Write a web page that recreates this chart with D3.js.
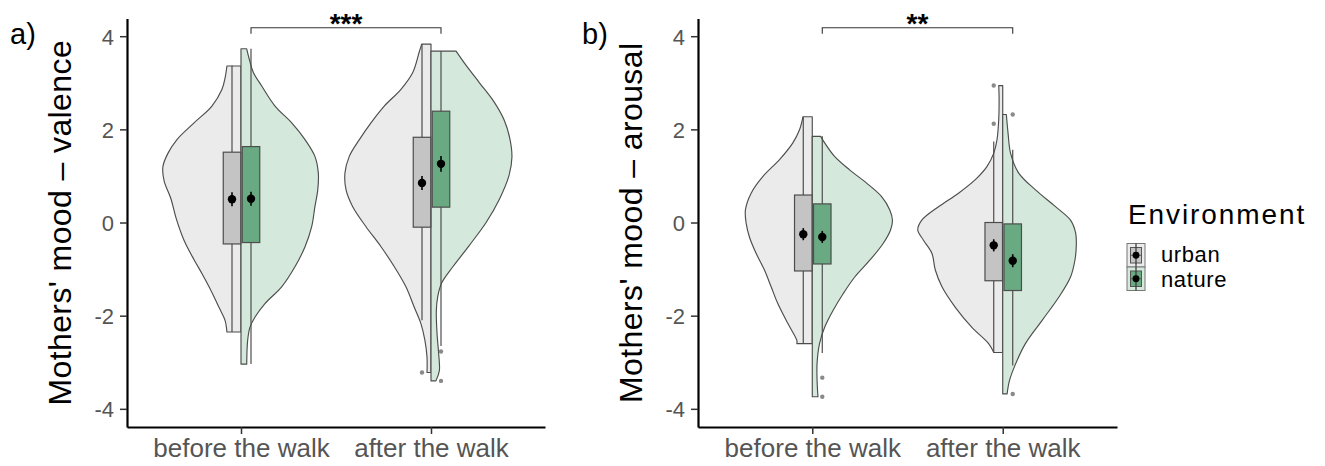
<!DOCTYPE html>
<html>
<head>
<meta charset="utf-8">
<script src="https://cdn.jsdelivr.net/npm/d3@7"></script>
<style>
  body { margin: 0; background: #fff; }
  svg { display: block; }
  text { font-family: "Liberation Sans", Arial, Helvetica, sans-serif; }
</style>
</head>
<body>
<svg id="chart" width="1325" height="466"></svg>
<script>
// ---- data -------------------------------------------------------------
const timepoints = ["before the walk", "after the walk"];
const environments = ["urban", "nature"];
const yTicks = [-4, -2, 0, 2, 4];

// Half-violin outlines: [mood score, half-width as a share of the category step]
const valenceUrbanBefore = [[3.36,0.074],[3.10,0.084],[2.86,0.100],[2.50,0.153],[2.14,0.247],[1.78,0.337],[1.49,0.384],[1.20,0.411],[0.90,0.405],[0.50,0.368],[0.10,0.342],[-0.38,0.300],[-0.80,0.247],[-1.10,0.205],[-1.50,0.153],[-1.82,0.116],[-2.10,0.084],[-2.35,0.074]];
const valenceNatureBefore = [[3.73,0.030],[3.50,0.044],[3.22,0.065],[2.93,0.109],[2.50,0.179],[2.14,0.267],[1.78,0.337],[1.42,0.389],[1.06,0.407],[0.70,0.404],[0.34,0.389],[-0.09,0.372],[-0.52,0.337],[-0.95,0.284],[-1.38,0.214],[-1.74,0.126],[-2.03,0.074],[-2.25,0.047],[-2.53,0.035],[-3.04,0.030]];
const valenceUrbanAfter = [[3.83,0.049],[3.66,0.062],[3.22,0.096],[2.86,0.158],[2.50,0.246],[2.14,0.316],[1.78,0.377],[1.42,0.430],[1.06,0.453],[0.70,0.447],[0.34,0.412],[-0.09,0.342],[-0.52,0.263],[-0.95,0.193],[-1.38,0.132],[-1.82,0.088],[-2.17,0.053],[-2.53,0.032],[-2.89,0.021],[-3.22,0.021]];
const valenceNatureAfter = [[3.68,0.132],[3.40,0.180],[3.00,0.255],[2.60,0.330],[2.20,0.385],[1.80,0.415],[1.40,0.426],[1.00,0.410],[0.50,0.360],[0.00,0.290],[-0.50,0.200],[-0.95,0.115],[-1.30,0.056],[-1.60,0.035],[-1.90,0.028],[-2.40,0.032],[-2.80,0.040],[-3.18,0.044],[-3.40,0.026]];

const arousalUrbanBefore = [[2.27,0.049],[1.99,0.067],[1.71,0.102],[1.35,0.172],[0.99,0.259],[0.63,0.321],[0.27,0.351],[-0.02,0.347],[-0.31,0.330],[-0.66,0.295],[-1.02,0.251],[-1.38,0.216],[-1.74,0.181],[-2.17,0.128],[-2.53,0.081],[-2.60,0.081]];
const arousalNatureBefore = [[1.85,0.044],[1.71,0.065],[1.42,0.117],[1.13,0.196],[0.85,0.284],[0.56,0.363],[0.27,0.407],[0.05,0.421],[-0.16,0.411],[-0.45,0.372],[-0.81,0.302],[-1.17,0.223],[-1.53,0.162],[-1.89,0.109],[-2.25,0.065],[-2.60,0.038],[-3.04,0.025],[-3.47,0.026],[-3.74,0.030]];
const arousalUrbanAfter = [[2.94,0.021],[2.64,0.019],[2.21,0.021],[1.78,0.030],[1.49,0.047],[1.20,0.083],[0.92,0.144],[0.63,0.232],[0.34,0.337],[0.05,0.425],[-0.16,0.446],[-0.38,0.416],[-0.66,0.372],[-1.02,0.354],[-1.38,0.319],[-1.82,0.249],[-2.25,0.162],[-2.60,0.074],[-2.79,0.047]];
const arousalNatureAfter = [[2.32,0.019],[1.92,0.028],[1.49,0.041],[1.06,0.084],[0.70,0.172],[0.34,0.277],[0.05,0.356],[-0.23,0.383],[-0.52,0.386],[-0.81,0.379],[-1.17,0.356],[-1.60,0.295],[-2.10,0.207],[-2.60,0.119],[-3.04,0.067],[-3.40,0.035],[-3.68,0.023]];

// Box statistics per timepoint: [lower whisker, Q1, Q3, upper whisker]
const valenceUrbanBox  = [[-2.35, -0.46, 1.51, 3.37], [-2.10, -0.10, 1.83, 3.83]];
const valenceNatureBox = [[-3.04, -0.43, 1.63, 3.73], [-2.65, 0.33, 2.39, 3.68]];
const arousalUrbanBox  = [[-2.60, -1.04, 0.59, 2.27], [-2.79, -1.25, 0.00, 1.74]];
const arousalNatureBox = [[-2.80, -0.89, 0.40, 1.85], [-3.07, -1.46, -0.03, 1.56]];

// Means and standard errors per timepoint
const valenceUrbanMean  = [0.50, 0.85];  const valenceUrbanSE  = [0.15, 0.15];
const valenceNatureMean = [0.51, 1.26];  const valenceNatureSE = [0.15, 0.17];
const arousalUrbanMean  = [-0.25, -0.49]; const arousalUrbanSE  = [0.13, 0.13];
const arousalNatureMean = [-0.31, -0.82]; const arousalNatureSE = [0.13, 0.14];

// Outlying observations per timepoint
const valenceUrbanOutliers  = [[], [-3.22]];
const valenceNatureOutliers = [[], [-2.77, -3.40]];
const arousalUrbanOutliers  = [[], [2.12, 2.94]];
const arousalNatureOutliers = [[-3.33, -3.74], [2.32, -3.68]];

// Before/after comparison
const valenceSignificance = "***";
const arousalSignificance = "**";
const significanceLevel = 4.18;

// ---- styles -----------------------------------------------------------
const violinFill = { urban: "#ebebeb", nature: "#d5e8dc" };
const boxFill    = { urban: "#c4c4c4", nature: "#69aa83" };
const outline = "#4d4d4d";

const panels = [
  {
    tag: "a)", title: "Mothers' mood \u2013 valence", left: 127, right: 545,
    tagX: 10, titleX: 71, sig: valenceSignificance,
    groups: {
      urban:  { dens: [valenceUrbanBefore, valenceUrbanAfter], box: valenceUrbanBox, mean: valenceUrbanMean, se: valenceUrbanSE, out: valenceUrbanOutliers },
      nature: { dens: [valenceNatureBefore, valenceNatureAfter], box: valenceNatureBox, mean: valenceNatureMean, se: valenceNatureSE, out: valenceNatureOutliers }
    }
  },
  {
    tag: "b)", title: "Mothers' mood \u2013 arousal", left: 698, right: 1117,
    tagX: 582, titleX: 642, sig: arousalSignificance,
    groups: {
      urban:  { dens: [arousalUrbanBefore, arousalUrbanAfter], box: arousalUrbanBox, mean: arousalUrbanMean, se: arousalUrbanSE, out: arousalUrbanOutliers },
      nature: { dens: [arousalNatureBefore, arousalNatureAfter], box: arousalNatureBox, mean: arousalNatureMean, se: arousalNatureSE, out: arousalNatureOutliers }
    }
  }
];

const svg = d3.select("#chart");
const plotTop = 18.5, plotBottom = 427;
const y = d3.scaleLinear().domain([-4.39, 4.38]).range([plotBottom, plotTop]);

const boxWidth = 17.5;
const dodge = { urban: -9, nature: 10 };

panels.forEach(p => {
  const g = svg.append("g");
  const x = d3.scalePoint().domain(timepoints).range([p.left, p.right]).padding(0.6);
  const step = x.step();

  // half violins: urban to the left of the category, nature to the right
  environments.forEach(env => {
    const grp = p.groups[env];
    const side = env === "urban" ? -1 : 1;
    timepoints.forEach((t, i) => {
      const cx = x(t);
      const area = d3.area()
        .y(d => y(d[0]))
        .x0(() => cx)
        .x1(d => cx + side * d[1] * step)
        .curve(d3.curveCatmullRom.alpha(0.5));
      g.append("path")
        .attr("d", area(grp.dens[i]))
        .attr("fill", violinFill[env])
        .attr("stroke", outline)
        .attr("stroke-width", 1.15)
        .attr("stroke-linejoin", "round");
    });
  });

  // box plots, outliers, means with standard errors
  environments.forEach(env => {
    const grp = p.groups[env];
    timepoints.forEach((t, i) => {
      const cx = x(t) + dodge[env];
      const [lo, q1, q3, hi] = grp.box[i];
      g.append("line")
        .attr("x1", cx).attr("x2", cx)
        .attr("y1", y(hi)).attr("y2", y(lo))
        .attr("stroke", outline).attr("stroke-width", 1.2);
      g.append("rect")
        .attr("x", cx - boxWidth / 2).attr("width", boxWidth)
        .attr("y", y(q3)).attr("height", y(q1) - y(q3))
        .attr("fill", boxFill[env])
        .attr("stroke", outline).attr("stroke-width", 1.2);
      grp.out[i].forEach(v => {
        g.append("circle")
          .attr("cx", cx).attr("cy", y(v)).attr("r", 2.2)
          .attr("fill", "#8a8a8a");
      });
      const m = grp.mean[i], se = grp.se[i];
      g.append("line")
        .attr("x1", cx).attr("x2", cx)
        .attr("y1", y(m + se)).attr("y2", y(m - se))
        .attr("stroke", "#000").attr("stroke-width", 1.6);
      g.append("circle")
        .attr("cx", cx).attr("cy", y(m)).attr("r", 4.2)
        .attr("fill", "#000");
    });
  });

  // significance bracket between the nature groups
  const x1 = x(timepoints[0]) + dodge.nature, x2 = x(timepoints[1]) + dodge.nature;
  const yb = y(significanceLevel);
  g.append("path")
    .attr("d", `M${x1},${yb + 6}V${yb}H${x2}V${yb + 6}`)
    .attr("fill", "none").attr("stroke", "#333").attr("stroke-width", 1.1);
  g.append("text")
    .attr("x", (x1 + x2) / 2).attr("y", yb + 5)
    .attr("text-anchor", "middle")
    .attr("font-size", 28).attr("font-weight", "bold")
    .text(p.sig);

  // axes
  const yAxis = g.append("g")
    .attr("transform", `translate(${p.left},0)`)
    .call(d3.axisLeft(y).tickValues(yTicks).tickSize(7).tickSizeOuter(0).tickPadding(6)
      .tickFormat(d => String(d)));
  const xAxis = g.append("g")
    .attr("transform", `translate(0,${plotBottom})`)
    .call(d3.axisBottom(x).tickSize(7).tickSizeOuter(0).tickPadding(5));
  [yAxis, xAxis].forEach(a => {
    a.select(".domain").attr("stroke", "#000").attr("stroke-width", 2.2);
    a.selectAll(".tick line").attr("stroke", "#333").attr("stroke-width", 1.5);
    a.selectAll(".tick text").attr("fill", "#555").attr("font-family", "Liberation Sans, Arial, sans-serif");
  });
  yAxis.selectAll(".tick text").attr("font-size", 22).attr("dy", "0.36em");
  xAxis.selectAll(".tick text").attr("font-size", 26);

  // axis title and panel tag
  g.append("text")
    .attr("transform", `translate(${p.titleX},${(plotTop + plotBottom) / 2}) rotate(-90)`)
    .attr("text-anchor", "middle")
    .attr("font-size", 32)
    .attr("letter-spacing", 0.4)
    .attr("fill", "#000")
    .text(p.title);
  g.append("text")
    .attr("x", p.tagX).attr("y", 44)
    .attr("font-size", 29)
    .attr("fill", "#000")
    .text(p.tag);
});

// legend
const legend = svg.append("g").attr("transform", "translate(1127,0)");
legend.append("text")
  .attr("x", 1).attr("y", 224)
  .attr("font-size", 28).attr("letter-spacing", 1.9)
  .attr("fill", "#000")
  .text("Environment");
environments.forEach((env, i) => {
  const ky = 243.5 + i * 23.5;
  const k = legend.append("g").attr("transform", `translate(0,${ky})`);
  k.append("rect").attr("x", 0).attr("y", 0).attr("width", 18).attr("height", 23.5)
    .attr("fill", violinFill[env]).attr("stroke", "#777").attr("stroke-width", 1);
  k.append("rect").attr("x", 3.5).attr("y", 4).attr("width", 11).attr("height", 15.5)
    .attr("fill", boxFill[env]).attr("stroke", "#555").attr("stroke-width", 1);
  k.append("line").attr("x1", 9).attr("x2", 9).attr("y1", 0).attr("y2", 23.5)
    .attr("stroke", "#333").attr("stroke-width", 1.2);
  k.append("line").attr("x1", 3.5).attr("x2", 14.5).attr("y1", 11.75).attr("y2", 11.75)
    .attr("stroke", "#555").attr("stroke-width", 1);
  k.append("circle").attr("cx", 9).attr("cy", 11.75).attr("r", 3.4).attr("fill", "#000");
  legend.append("text")
    .attr("x", 34).attr("y", 262 + i * 25)
    .attr("font-size", 22)
    .attr("letter-spacing", 0.6)
    .attr("fill", "#000")
    .text(env);
});
</script>
</body>
</html>
